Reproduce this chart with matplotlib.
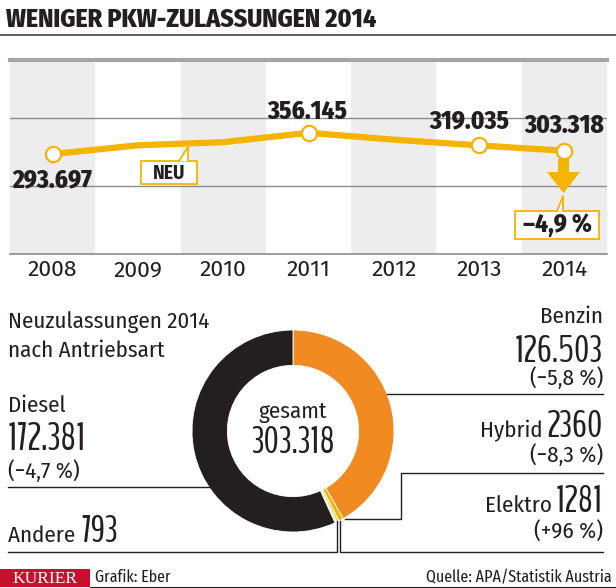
import matplotlib
matplotlib.use("Agg")
import matplotlib.pyplot as plt
from matplotlib.patches import Rectangle, Polygon

# --- data ---
years = ["2008", "2009", "2010", "2011", "2012", "2013", "2014"]
totals = [293697, 319403, 328563, 356145, 336010, 319035, 303318]
labelled = [0, 3, 5, 6]

fuel = ["Benzin", "Hybrid", "Elektro", "Andere", "Diesel"]
fuel_counts = [126503, 2360, 1281, 793, 172381]
fuel_change = ["(−5,8 %)", "(−8,3 %)", "(+96 %)", "", "(−4,7 %)"]
fuel_total = 303318

YELLOW = "#F5B400"
ORANGE = "#F18A21"
DARK = "#231F20"
SHADE = "#EDEDED"
GRID = "#8C8C8C"

COND = ["Fira Sans Condensed", "DejaVu Sans"]
XCOND = ["Fira Sans Extra Condensed", "DejaVu Sans"]
THIN = ["BenchNine", "Saira ExtraCondensed", "DejaVu Sans"]
SANS = ["Fira Sans", "DejaVu Sans"]
FS = 16.5  # body text size


def fmt(v):
    s = str(v)
    if v >= 10000:
        s = f"{v:,}".replace(",", ".")
    return s


W, H = 616, 588
fig = plt.figure(figsize=(W / 100, H / 100), dpi=100)

# --- line chart ---
ax = fig.add_axes([10 / W, 1 - 254 / H, 597 / W, 194 / H])
x = list(range(len(years)))
for i in x:
    if i % 2 == 0:
        ax.axvspan(i - 0.5, i + 0.5, color=SHADE, lw=0, zorder=0)
for g in (200000, 400000):
    ax.axhline(g, color=GRID, lw=1, zorder=1)
ax.plot(x, totals, color=YELLOW, lw=4.5, solid_capstyle="round", zorder=3)
ax.plot([x[i] for i in labelled], [totals[i] for i in labelled], "o", ms=11,
        mfc="white", mec=YELLOW, mew=1.6, zorder=4)
offs = {0: (0, -24), 3: (-1, 10), 5: (-7, 12.5), 6: (0, 13)}
for i in labelled:
    ax.annotate(fmt(totals[i]), (x[i], totals[i]), xytext=offs[i],
                textcoords="offset points", ha="center", va="baseline",
                fontsize=18, fontweight=800, family=COND, color=DARK, zorder=5)
ax.set_xlim(-0.5, 6.5)
ax.set_ylim(0, 570000)
ax.set_xticks(x)
ax.set_xticklabels(years, fontsize=16.5, family=SANS, color=DARK)
ax.tick_params(axis="x", length=0, pad=4)
ax.set_yticks([])
for s in ("left", "right"):
    ax.spines[s].set_visible(False)
ax.spines["bottom"].set_color(GRID)
ax.spines["bottom"].set_linewidth(1.2)
ax.spines["top"].set_color("#A5A5A5")
ax.spines["top"].set_linewidth(3)

# --- donut ---
pax = fig.add_axes([(293 - 101) / W, 1 - (431 + 101) / H, 202 / W, 202 / H])
pax.pie(fuel_counts, colors=[ORANGE, YELLOW, "#F9D46A", "#EFE0B8", DARK],
        startangle=90, counterclock=False, radius=1,
        wedgeprops=dict(width=0.35, edgecolor="white", linewidth=0.6))
pax.set_xlim(-1, 1)
pax.set_ylim(-1, 1)

# --- overlay for texts, callouts, leader lines ---
ov = fig.add_axes([0, 0, 1, 1], zorder=5)
ov.set_xlim(0, W)
ov.set_ylim(H, 0)
ov.axis("off")
ov.patch.set_visible(False)

ov.text(6, 27, "WENIGER PKW-ZULASSUNGEN 2014", fontsize=18.5, fontweight=800,
        family=COND, color=DARK, va="baseline", ha="left")
ov.plot([0, W], [35, 35], color="#444444", lw=1.2)

# NEU callout
ov.add_patch(Rectangle((141, 161), 56, 23, facecolor="white", edgecolor=YELLOW, lw=1.3))
ov.add_patch(Polygon([(179, 161.5), (188, 147), (188, 161.5)], closed=True,
                     facecolor="white", edgecolor="none"))
ov.plot([179, 188, 188], [161, 147, 161], color=YELLOW, lw=1.3)
ov.text(169, 179, "NEU", fontsize=14, fontweight="bold", family=COND, color=DARK,
        ha="center", va="baseline")

# arrow down from 2014
ov.add_patch(Polygon([(558, 159), (569, 159), (569, 172), (580, 172), (563.5, 193),
                      (547, 172), (558, 172)], closed=True, facecolor=YELLOW, edgecolor="none"))
ov.add_patch(Rectangle((515, 211), 84, 28, facecolor="white", edgecolor=YELLOW, lw=1.3))
ov.add_patch(Polygon([(557, 211.5), (563, 196), (563, 211.5)], closed=True,
                     facecolor="white", edgecolor="none"))
ov.plot([557, 563, 563], [211, 196, 211], color=YELLOW, lw=1.3)
ov.text(557, 232, "–4,9 %", fontsize=18, fontweight=800, family=COND, color=DARK,
        ha="center", va="baseline")

# donut centre
ov.text(293, 418, "gesamt", ha="center", va="baseline", fontsize=FS, family=COND, color=DARK)
ov.text(293, 453, fmt(fuel_total), ha="center", va="baseline", fontsize=27,
        family=THIN, color=DARK)

# section heading
ov.text(8, 328, "Neuzulassungen 2014", fontsize=FS, family=COND, color=DARK, va="baseline")
ov.text(8, 357, "nach Antriebsart", fontsize=FS, family=COND, color=DARK, va="baseline")


def name_before(num, label, y):
    # label placed just left of a big number, on the same baseline
    ov.annotate(label, xy=(0, y), xycoords=(num, "data"), xytext=(-3, 0),
                textcoords="offset points", ha="right", va="baseline",
                fontsize=FS, family=COND, color=DARK)


# right side labels
R = 603
ov.text(R, 323, fuel[0], fontsize=FS, family=COND, color=DARK, ha="right", va="baseline")
ov.text(R, 362, fmt(fuel_counts[0]), fontsize=27, family=THIN, color=DARK, ha="right", va="baseline")
ov.text(R, 385, fuel_change[0], fontsize=FS, family=COND, color=DARK, ha="right", va="baseline")
ov.plot([387, R], [394, 394], color=DARK, lw=1)

n1 = ov.text(R, 437, fmt(fuel_counts[1]), fontsize=27, family=THIN, color=DARK, ha="right", va="baseline")
name_before(n1, fuel[1], 437)
ov.text(R, 462, fuel_change[1], fontsize=FS, family=COND, color=DARK, ha="right", va="baseline")
ov.plot([345, 401, 401, R], [519, 519, 473, 473], color=DARK, lw=1)

n2 = ov.text(R, 512, fmt(fuel_counts[2]), fontsize=27, family=THIN, color=DARK, ha="right", va="baseline")
name_before(n2, fuel[2], 512)
ov.text(R, 538, fuel_change[2], fontsize=FS, family=COND, color=DARK, ha="right", va="baseline")
ov.plot([340, 340, R], [521, 552, 552], color=DARK, lw=1)

# left side labels
ov.text(8, 412, fuel[4], fontsize=FS, family=COND, color=DARK, va="baseline")
ov.text(8, 450, fmt(fuel_counts[4]), fontsize=28, family=THIN, color=DARK, va="baseline")
ov.text(8, 478, fuel_change[4], fontsize=FS, family=COND, color=DARK, va="baseline")
ov.plot([8, 209], [487, 487], color=DARK, lw=1)

a_lab = ov.text(8, 542, fuel[3] + " ", fontsize=FS, family=COND, color=DARK, va="baseline")
ov.annotate(fmt(fuel_counts[3]), xy=(1, 542), xycoords=(a_lab, "data"), xytext=(0, 0),
            textcoords="offset points", ha="left", va="baseline",
            fontsize=27, family=THIN, color=DARK)
ov.plot([337, 337, 8], [521, 552, 552], color=DARK, lw=1)

# footer
ov.add_patch(Rectangle((0, 569), 90, 18, facecolor="#C8102E", edgecolor="none"))
ov.text(45, 583, "KURIER", fontsize=12.5, family=["Liberation Serif", "DejaVu Serif"],
        color="white", ha="center", va="baseline")
ov.text(95, 582, "Grafik: Eber", fontsize=12.5, family=XCOND, color=DARK, va="baseline")
ov.text(612, 582, "Quelle: APA/Statistik Austria", fontsize=12.5, family=XCOND,
        color=DARK, va="baseline", ha="right")
ov.plot([90, W], [587, 587], color=DARK, lw=0.8)

fig.savefig("out.png", dpi=100)
